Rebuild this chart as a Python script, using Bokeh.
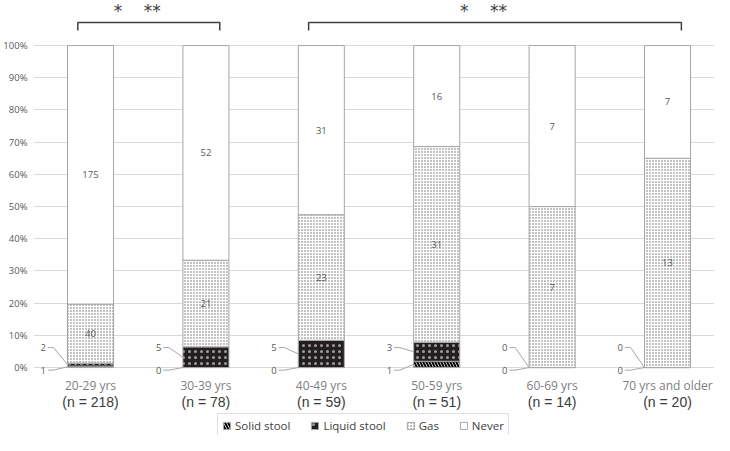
import numpy as np
from bokeh.plotting import figure
from bokeh.models import Range1d, Legend, LegendItem, NumeralTickFormatter, FixedTicker, ColumnDataSource
from bokeh.core.properties import value
from bokeh.embed import file_html
from bokeh.resources import INLINE

# ---------------- data ----------------
age_groups = ["20-29 yrs", "30-39 yrs", "40-49 yrs", "50-59 yrs", "60-69 yrs", "70 yrs and older"]
n_labels = ["(n = 218)", "(n = 78)", "(n = 59)", "(n = 51)", "(n = 14)", "(n = 20)"]
solid = [1, 0, 0, 1, 0, 0]
liquid = [2, 5, 5, 3, 0, 0]
gas = [40, 21, 23, 31, 7, 13]
never = [175, 52, 31, 16, 7, 7]
series_names = ["Solid stool", "Liquid stool", "Gas", "Never"]
sig_groups = [(0, 1), (2, 5)]
sig_text = "*\u00a0\u00a0\u00a0\u00a0**"
y_ticks = [0.0, 0.1, 0.2, 0.3, 0.4, 0.5, 0.6, 0.7, 0.8, 0.9, 1.0]

# ---------------- derived ----------------
counts = np.array([solid, liquid, gas, never], dtype=float)
totals = counts.sum(axis=0)
frac = counts / totals
tops = np.cumsum(frac, axis=0)
bottoms = tops - frac
xs = np.arange(len(age_groups), dtype=float)

BAR_W = 0.399
GRAY_TXT = "#595959"
FONT = "Open Sans"

p = figure(width=714, height=435, output_backend="svg", toolbar_location=None,
           x_range=Range1d(-0.494, 5.407), y_range=Range1d(-0.211, 1.140),
           x_axis_location=None, min_border_left=0, min_border_right=0,
           min_border_top=0, min_border_bottom=0)
p.outline_line_color = None
p.xgrid.visible = False
p.ygrid.grid_line_color = "#d9d9d9"
p.ygrid.grid_line_width = 1
p.yaxis.ticker = FixedTicker(ticks=y_ticks)
p.yaxis.formatter = NumeralTickFormatter(format="0%")
p.yaxis.axis_line_color = None
p.yaxis.major_tick_line_color = None
p.yaxis.minor_tick_line_color = None
p.yaxis.major_tick_out = 0
p.yaxis.major_tick_in = 0
p.yaxis.minor_tick_out = 0
p.yaxis.major_label_text_font_size = "9.5px"
p.yaxis.major_label_text_color = GRAY_TXT
p.yaxis.major_label_text_font = FONT
p.yaxis.major_label_standoff = 6

styles = [
    dict(fill_color="white", hatch_pattern="left_diagonal_line", hatch_color="black",
         hatch_weight=2, hatch_scale=6),
    dict(fill_color="#231f20", hatch_pattern="dot", hatch_color="white",
         hatch_weight=0.5, hatch_scale=6, hatch_alpha=0.55),
    dict(fill_color="white", hatch_pattern="dot", hatch_color="#666666",
         hatch_weight=0.8, hatch_scale=3),
    dict(fill_color="white"),
]

renderers = []
for k, name in enumerate(series_names):
    src = ColumnDataSource(dict(x=xs, top=tops[k], bottom=bottoms[k]))
    r = p.vbar(x="x", top="top", bottom="bottom", width=BAR_W, source=src,
               line_color="#a6a6a6", line_width=1, **styles[k])
    renderers.append(r)

# labels inside gas / never segments
for k in (2, 3):
    src = ColumnDataSource(dict(x=xs, y=(tops[k] + bottoms[k]) / 2,
                                t=[str(int(v)) for v in counts[k]]))
    p.text(x="x", y="y", text="t", source=src, text_align="center", text_baseline="middle",
           text_font_size="9.5px", text_color=GRAY_TXT, text_font=value(FONT))

# leader labels for solid / liquid
half = BAR_W / 2
lab_y = {0: -0.008, 1: 0.062}
for k in (0, 1):
    lx = xs - 0.41
    ly = np.full(len(xs), lab_y[k])
    src = ColumnDataSource(dict(x=lx, y=ly, t=[str(int(v)) for v in counts[k]]))
    p.text(x="x", y="y", text="t", source=src, text_align="center", text_baseline="middle",
           text_font_size="9.5px", text_color=GRAY_TXT, text_font=value(FONT))
    mids = (tops[k] + bottoms[k]) / 2
    lines_x = [[x - 0.37, x - 0.32, x - half] for x in xs]
    lines_y = [[lab_y[k], lab_y[k], m] for m in mids]
    p.multi_line(xs=lines_x, ys=lines_y, line_color="#a6a6a6", line_width=1)

# category labels
p.text(x=xs, y=np.full(len(xs), -0.056), text=age_groups, text_align="center",
       text_baseline="middle", text_font_size="12px", text_color="#808080",
       text_font=value(FONT))
p.text(x=xs, y=np.full(len(xs), -0.108), text=n_labels, text_align="center",
       text_baseline="middle", text_font_size="14px", text_color="#3a3a3a",
       text_font=value("Liberation Sans"))

# significance brackets
for a, b in sig_groups:
    x0, x1 = xs[a] - 0.11, xs[b] + 0.12
    p.line(x=[x0, x0, x1, x1], y=[1.0466, 1.0714, 1.0714, 1.0466], line_color="#404040",
           line_width=1.5)
    p.text(x=[(x0 + x1) / 2 - 0.1], y=[1.140], text=[sig_text], text_align="center",
           text_baseline="top", text_font_size="17px", text_color="#404040",
           text_font=value("DejaVu Sans"))

legend = Legend(items=[LegendItem(label=n, renderers=[r]) for n, r in zip(series_names, renderers)],
                orientation="horizontal", location=(184, -3), glyph_width=9, glyph_height=9,
                label_text_font_size="11.5px", label_text_font=FONT, label_text_color="#404040",
                label_standoff=4, label_height=10, spacing=20, padding=4, margin=0,
                border_line_color="#bfbfbf", border_line_width=1,
                background_fill_color="white", background_fill_alpha=1)
p.add_layout(legend, "center")

open("out.html", "w").write(file_html(p, INLINE))
